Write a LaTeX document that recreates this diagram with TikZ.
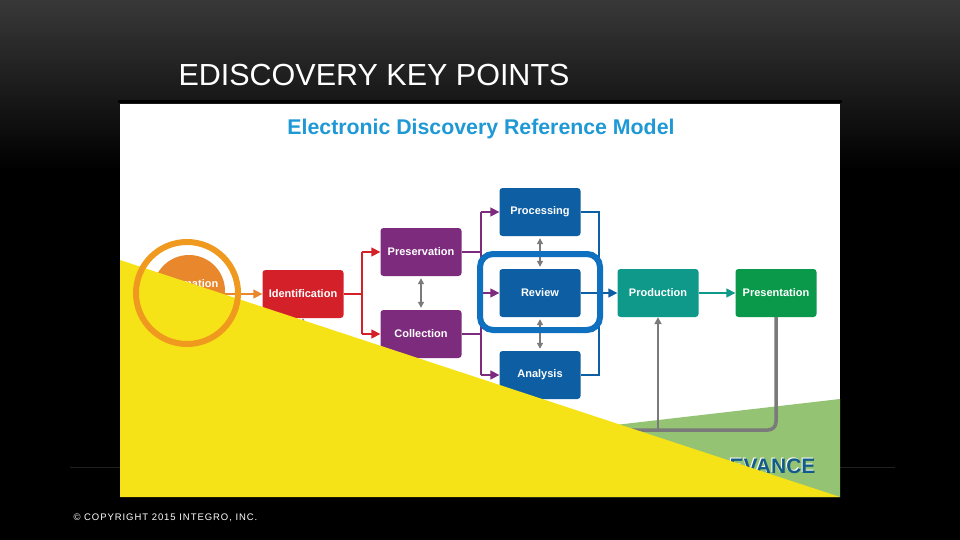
\documentclass[tikz,border=0pt]{standalone}
\usepackage{fontspec}
\setmainfont{Liberation Sans}
\usetikzlibrary{arrows.meta,calc}
\definecolor{BgClr}{rgb}{0.22,0.22,0.22}
\definecolor{OrangeClr}{rgb}{0.91,0.53,0.17}
\definecolor{RingClr}{rgb}{0.94,0.6,0.12}
\definecolor{RedClr}{rgb}{0.83,0.13,0.16}
\definecolor{PurpleClr}{rgb}{0.49,0.17,0.49}
\definecolor{BlueClr}{rgb}{0.05,0.37,0.64}
\definecolor{TealClr}{rgb}{0.06,0.6,0.54}
\definecolor{GreenClr}{rgb}{0.04,0.6,0.29}
\definecolor{HaloClr}{rgb}{0.06,0.44,0.75}
\definecolor{TitleClr}{rgb}{0.12,0.6,0.84}
\definecolor{GreyClr}{rgb}{0.48,0.48,0.48}
\definecolor{YellowClr}{rgb}{0.96,0.89,0.09}
\definecolor{LeafClr}{rgb}{0.58,0.77,0.45}
\definecolor{WordClr}{rgb}{0.08,0.36,0.53}

\begin{document}
\begin{tikzpicture}[x=1pt,y=-1pt,
  stage/.style={rounded corners=3pt,minimum width=81pt,minimum height=48pt,inner sep=0pt,
    text=white,font=\fontsize{11}{13}\selectfont\bfseries},
  flow/.style={line width=1.6pt,-{Triangle[length=9pt,width=9pt]}},
  link/.style={GreyClr,line width=1.2pt,shorten <=2pt,shorten >=2pt,
    {Triangle[length=6pt,width=6pt]}-{Triangle[length=6pt,width=6pt]}}]
\useasboundingbox (0,0) rectangle (960,540);

% slide
\fill[black] (0,0) rectangle (960,540);
\shade[top color=BgClr,bottom color=black] (0,0) rectangle (960,170);
\draw[gray!25!black,line width=1pt] (70,467) -- (895,467);

\node[anchor=base west,text=white,font=\fontsize{30.5}{34}\selectfont] (T) at (175,86) {EDISCOVERY KEY POINTS};
\node[anchor=base west,text=white,font=\fontsize{9.5}{11}\selectfont] (CR) at (70,520)
  {\addfontfeature{LetterSpace=10}© COPYRIGHT 2015 INTEGRO, INC.};

% picture
\draw[black,line width=3pt] (118,102) -- (842,102);
\fill[white] (120,104) rectangle (840,497);
\fill[LeafClr] (520,436) -- (840,399) -- (840,497) -- (520,497) -- cycle;
\node[anchor=base east,text=white,font=\fontsize{21}{24}\selectfont\bfseries] at (818,472) {RELEVANCE};
\node[anchor=base east,text=WordClr,font=\fontsize{21}{24}\selectfont\bfseries] (RV) at (819,473) {RELEVANCE};

\node[text=TitleClr,font=\fontsize{21.3}{24}\selectfont\bfseries] (H) at (481,129) {Electronic Discovery Reference Model};

\node[circle,fill=OrangeClr,minimum size=72pt,inner sep=0pt] (G) at (189,291) {};
\node[text=white,font=\fontsize{11}{13}\selectfont\bfseries] (GT) at (188,284) {Information};

\node[stage,fill=RedClr] (I) at (303,294) {Identification};
\node[stage,fill=PurpleClr] (P) at (421,252) {Preservation};
\node[stage,fill=PurpleClr] (C) at (421,334) {Collection};
\node[stage,fill=BlueClr] (PR) at (540,212) {Processing};
\node[stage,fill=BlueClr] (R) at (540,293) {Review};
\node[stage,fill=BlueClr] (A) at (540,375) {Analysis};
\node[stage,fill=TealClr] (PD) at (658,293) {Production};
\node[stage,fill=GreenClr] (PT) at (776,293) {Presentation};

\coordinate (J) at (362,294);
\coordinate (K) at (481,293);
\coordinate (L) at (599,293);
\coordinate (V) at (540,430);

\draw[flow,OrangeClr] (G.east |- I) -- (I.west);

\draw[RedClr,line width=1.6pt] (I.east) -- (J) (J |- P) -- (J |- C);
\draw[flow,RedClr] (J |- P) -- (P.west);
\draw[flow,RedClr] (J |- C) -- (C.west);

\draw[PurpleClr,line width=1.6pt] (P.east) -- (K |- P) (C.east) -- (K |- C) (K |- PR) -- (K |- A);
\draw[flow,PurpleClr] (K |- PR) -- (PR.west);
\draw[flow,PurpleClr] (K) -- (R.west);
\draw[flow,PurpleClr] (K |- A) -- (A.west);

\draw[BlueClr,line width=1.6pt] (PR.east) -| (L |- A) -- (A.east);
\draw[flow,BlueClr] (R.east) -- (PD.west);
\draw[flow,TealClr] (PD.east) -- (PT.west);

\draw[link] (P) -- (C);
\draw[link] (PR) -- (R);
\draw[link] (R) -- (A);

\draw[GreyClr,line width=3.5pt,rounded corners=8pt] (PT.south) |- (I.south |- V);
\draw[GreyClr,line width=2pt,-{Triangle[length=7pt,width=7pt]}] (I.south |- V) -- (I.south);
\draw[GreyClr,line width=2pt,-{Triangle[length=7pt,width=7pt]}] (PD.south |- V) -- (PD.south);

\draw[HaloClr,line width=6pt,rounded corners=13pt] (480,254) rectangle (600,330);

% overlay
\fill[YellowClr] (120,260) -- (840,497) -- (120,497) -- cycle;
\draw[RingClr,line width=6pt] (187,293) circle (51);

\end{tikzpicture}
\end{document}
